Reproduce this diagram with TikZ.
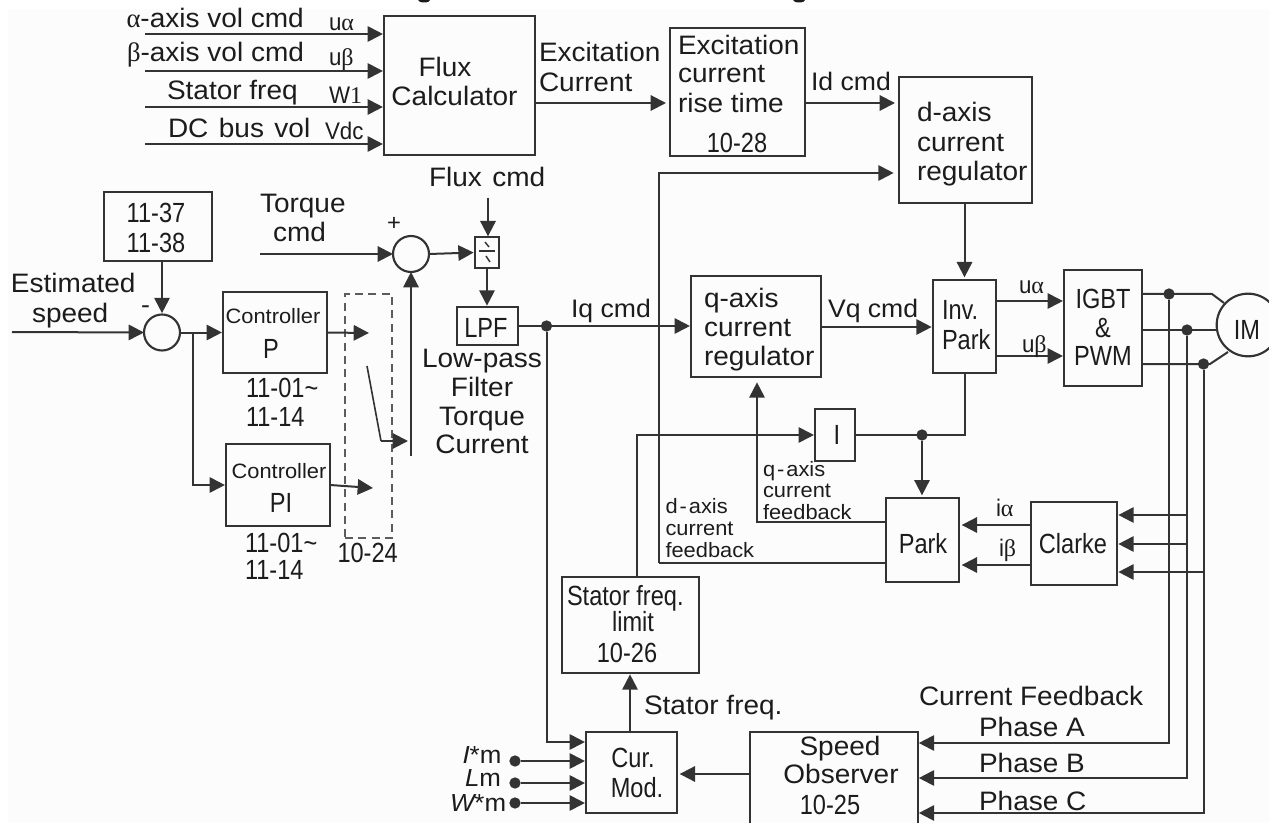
\documentclass[tikz,border=0pt]{standalone}
\usepackage{fontspec}
\setmainfont{Liberation Sans}[FakeStretch=1.05]
\newfontfamily\nar{Liberation Sans}[FakeStretch=0.85]
\newfontfamily\unar{Liberation Sans}[FakeStretch=0.93]
\newfontfamily\sym{Liberation Serif}
\usetikzlibrary{arrows.meta}
\definecolor{ink}{HTML}{333333}
\definecolor{tink}{HTML}{1C1C1C}
\definecolor{paper}{HTML}{FCFCFC}
\tikzset{
  bx/.style 2 args={draw=ink,line width=1.6pt,inner sep=0pt,outer sep=0pt,anchor=north west,
    minimum width=#1*0.75pt,minimum height=#2*0.75pt},
  wire/.style={draw=ink,line width=1.5pt},
  arr/.style={wire,-{Triangle[length=11.5pt,width=11.5pt]},shorten >=0.8pt},
  tl/.style={inner sep=0pt,outer sep=0pt,anchor=base west,text=tink,font=\fontsize{20}{24}\selectfont},
  tc/.style={tl,anchor=base},
  sl/.style={tl,font=\fontsize{15.6}{20}\selectfont},
  sc/.style={sl,anchor=base},
  nl/.style={tl,font=\fontsize{20.8}{24}\selectfont\nar},
  nc/.style={nl,anchor=base},
  ul/.style={tl,font=\fontsize{18}{22}\selectfont\unar},
  ml/.style={tl,font=\fontsize{18.5}{22}\selectfont},
  dot/.style={circle,fill=ink,draw=none,minimum size=8.5pt,inner sep=0pt,outer sep=0pt},
  sumc/.style={circle,draw=ink,line width=1.6pt,minimum size=27pt,inner sep=0pt,outer sep=0pt,fill=paper},
}
\begin{document}
\begin{tikzpicture}[x=0.75pt,y=-0.75pt]
\useasboundingbox (0,0) rectangle (1269,823);
\fill[white] (0,0) rectangle (1269,823);
\fill[paper] (8,9) rectangle (1269,823);
% cut-off remains of a title at the top edge
\fill[tink] (424,0) ellipse [x radius=6,y radius=2.5];
\fill[tink] (799,0) ellipse [x radius=6,y radius=2.5];

% ---------- boxes
\node[bx={151}{139}] (flux) at (384,16) {};
\node[bx={135}{128}] (rise) at (670,28) {};
\node[bx={133}{126}] (dreg) at (899,77) {};
\node[bx={108}{69}] (lim) at (104,192) {};
\node[bx={104}{81}] (ctlp) at (223,292) {};
\node[bx={104}{82}] (ctlpi) at (226,444) {};
\node[bx={24}{31}] (div) at (475,237) {};
\node[bx={61}{38}] (lpf) at (457,307) {};
\node[bx={130}{101}] (qreg) at (691,276) {};
\node[bx={63}{93}] (inv) at (933,280) {};
\node[bx={78}{116}] (igbt) at (1064,270) {};
\node[bx={40}{52}] (ibox) at (815,409) {};
\node[bx={73}{84}] (park) at (886,498) {};
\node[bx={86}{83}] (clarke) at (1031,502) {};
\node[bx={137}{96}] (sfl) at (562,577) {};
\node[bx={91}{81}] (cur) at (586,732) {};
\node[sumc] (sum1) at (162,332.5) {};
\node[sumc] (sum2) at (411,254) {};
\node[circle,draw=ink,line width=1.6pt,minimum size=47pt,inner sep=0pt,outer sep=0pt] (im) at (1248,325) {};
% speed observer runs off the bottom edge of the picture
\coordinate (obsNW) at (750,732);
\coordinate (obsNE) at (918,732);
\coordinate (obsSW) at (750,823);
\coordinate (obsSE) at (918,823);
\draw[wire,line width=1.6pt] (obsSW) -- (obsNW) -- (obsNE) -- (obsSE);
% dashed selector
\node[bx={47}{244},draw=ink!80,dash pattern=on 6pt off 4pt,line width=1pt] (sel) at (345,294) {};

% ---------- free ends
\coordinate (a1) at (145,34);
\coordinate (a2) at (145,71);
\coordinate (a3) at (145,107);
\coordinate (a4) at (145,144);
\coordinate (es) at (12,332);
\coordinate (tq) at (260,254);
\coordinate (fc) at (488,198);
\coordinate (pt) at (369,333);
\coordinate (pit) at (373,488);
\coordinate (swa) at (367,366);
\coordinate (swb) at (381,441);
\coordinate (swc) at (408,441);
\coordinate (tail) at (411,456);
\coordinate (br) at (193,333);
\coordinate (j) at (659,173);
\coordinate (dj) at (659,563);
\coordinate (qj) at (757,522);
\coordinate (ij) at (636.5,435);
\coordinate (t1a) at (1212,294);
\coordinate (t1b) at (1224,303);
\coordinate (t3a) at (1210,364);
\coordinate (t3b) at (1228,352);

% ---------- dots
\node[dot] (d1) at (1169,294) {};
\node[dot] (d2) at (1187,330) {};
\node[dot] (d3) at (1203.5,364) {};
\node[dot] (dq) at (546.5,326) {};
\node[dot] (dp) at (922,435) {};
\node[dot] (m1) at (515,761) {};
\node[dot] (m2) at (515,783) {};
\node[dot] (m3) at (515,803) {};

% ---------- connectors
\draw[arr] (a1) -- (flux.west |- a1);
\draw[arr] (a2) -- (flux.west |- a2);
\draw[arr] (a3) -- (flux.west |- a3);
\draw[arr] (a4) -- (flux.west |- a4);
\draw[arr,shorten >=3pt] (flux.east |- 0,103) -- (rise.west |- 0,103);
\draw[arr,shorten >=3pt] (rise.east |- 0,103) -- (dreg.west |- 0,103);
\draw[arr,shorten >=4pt] (dj) -- (j) -- (dreg.west |- j);
\draw[wire] (dj) -- (park.west |- dj);
\draw[arr,shorten >=2pt] (dreg.south -| inv.north) -- (inv.north);
\draw[arr,shorten >=1pt] (lim.south -| sum1) -- (sum1.north);
\draw[arr,shorten >=0pt] (es) -- (sum1.west);
\draw[arr] (sum1.east |- ctlp.west) -- (ctlp.west);
\draw[arr] (br) |- (ctlpi.west);
\draw[arr,shorten >=0pt] (ctlp.east) -- (pt);
\draw[arr,shorten >=0pt] (ctlpi.east) -- (pit);
\draw[wire,line width=1.2pt] (swa) -- (swb);
\draw[arr,shorten >=0pt] (swb) -- (swc);
\draw[arr,shorten >=0pt] (tail) -- (sum2.south);
\draw[arr,shorten >=0pt] (tq) -- (sum2.west);
\draw[arr,shorten >=1pt] (sum2.east) -- (div.west);
\draw[arr,shorten >=0.5pt] (fc) -- (div.north -| fc);
\draw[arr,shorten >=1pt] (div.south) -- (lpf.north -| div.south);
\draw[wire,line width=1.1pt] (479,251) -- (495,251);
\draw[wire,line width=1.1pt] (485,242) -- (489,247);
\draw[wire,line width=1.1pt] (486,256) -- (490,262);
\draw[arr] (lpf.east |- dq) -- (qreg.west |- dq);
\draw[arr,shorten >=1pt] (qreg.east |- 0,327) -- (inv.west |- 0,327);
\draw[arr] (inv.east |- 0,301) -- (igbt.west |- 0,301);
\draw[arr] (inv.east |- 0,356) -- (igbt.west |- 0,356);
\draw[wire] (igbt.east |- t1a) -- (t1a) -- (t1b);
\draw[wire] (igbt.east |- d2) -- (im.west |- d2);
\draw[wire] (igbt.east |- t3a) -- (t3a) -- (t3b);
\draw[arr] (sfl.north -| ij) -- (ij) -- (ibox.west |- ij);
\draw[wire] (ibox.east |- dp) -- (inv.south |- dp) -- (inv.south);
\draw[arr,shorten >=2pt] (dp) -- (park.north -| dp);
\draw[arr,shorten >=4pt] (park.west |- qj) -- (qj) -- (qreg.south -| qj);
\draw[arr,shorten >=2pt] (clarke.west |- 0,525) -- (park.east |- 0,525);
\draw[arr,shorten >=2pt] (clarke.west |- 0,565) -- (park.east |- 0,565);
\draw[arr,shorten >=1pt] (d2 |- 0,515) -- (clarke.east |- 0,515);
\draw[arr,shorten >=1pt] (d2 |- 0,544) -- (clarke.east |- 0,544);
\draw[arr,shorten >=1pt] (d3 |- 0,572) -- (clarke.east |- 0,572);
\draw[arr,shorten >=0.6pt] (d1) |- (obsNE |- 0,743);
\draw[arr,shorten >=0.6pt] (d2) |- (obsNE |- 0,778);
\draw[arr,shorten >=0.6pt] (d3) |- (obsNE |- 0,813);
\draw[arr,shorten >=1pt] (cur.north -| 630,0) -- (sfl.south -| 630,0);
\draw[arr,shorten >=2pt] (obsNW |- 0,774) -- (cur.east |- 0,774);
\draw[arr] (dq) |- (cur.west |- 0,742);
\draw[arr] (m1) -- (cur.west |- m1);
\draw[arr] (m2) -- (cur.west |- m2);
\draw[arr] (m3) -- (cur.west |- m3);

% ---------- text
\node[tl] (t1) at (126.5,28) {{\sym α}-axis vol cmd};
\node[tl] (t2) at (127,62) {{\sym β}-axis vol cmd};
\node[tl] (t3) at (167,100) {Stator freq};
\node[tl] (t4) at (168,138) {DC\hspace{2pt} bus\hspace{2pt} vol};
\node[ul] (u1) at (329,31) {u{\sym α}};
\node[ul] (u2) at (329,66) {u{\sym β}};
\node[ul] (u3) at (329,104) {W{\sym 1}};
\node[ul] (u4) at (325,140) {Vdc};
\node[tc] (t5) at (445,77) {Flux};
\node[tc] (t6) at (454.5,106) {Calculator};
\node[tl] (t7) at (539,62) {Excitation};
\node[tl] (t8) at (539,92) {Current};
\node[tl] (t9) at (678,55) {Excitation};
\node[tl] (t10) at (678,83) {current};
\node[tl] (t11) at (678,113) {rise time};
\node[nc] (t12) at (737,153) {10-28};
\node[tl,font=\fontsize{19}{24}\selectfont] (t13) at (811,91) {Id cmd};
\node[tl] (t14) at (917,122) {d-axis};
\node[tl] (t15) at (917,152) {current};
\node[tl] (t16) at (917,181) {regulator};
\node[tl] (t17) at (429,187) {Flux\hspace{2pt} cmd};
\node[nc] (t18) at (156,223) {11-37};
\node[nc] (t19) at (156,253) {11-38};
\node[tl] (t20) at (11,293) {Estimated};
\node[tl] (t21) at (32,322) {speed};
\node[sl,font=\fontsize{19}{20}\selectfont] (t22) at (141,313) {-};
\node[sl,font=\fontsize{17}{20}\selectfont] (t25) at (387,231) {+};
\node[tl] (t23) at (260,213) {Torque};
\node[tl] (t24) at (273,242) {cmd};
\node[sc] (t26) at (273,324) {Controller};
\node[nc] (t27) at (271,358) {P};
\node[sc] (t28) at (279,478) {Controller};
\node[nc] (t29) at (281,512) {PI};
\node[nl] (t30) at (246,397) {11-01\char`\~};
\node[nl] (t31) at (246,426) {11-14};
\node[nl] (t32) at (245,552) {11-01\char`\~};
\node[nl] (t33) at (245,579) {11-14};
\node[nl] (t34) at (337.5,562) {10-24};
\node[nc] (t35) at (486,337) {LPF};
\node[tc] (t36) at (482,367) {Low-pass};
\node[tc] (t37) at (482,396) {Filter};
\node[tc] (t38) at (482,425) {Torque};
\node[tc] (t39) at (482,453) {Current};
\node[tl,font=\fontsize{19}{24}\selectfont] (t40) at (571,317) {Iq cmd};
\node[tl] (t41) at (704,307) {q-axis};
\node[tl] (t42) at (704,336) {current};
\node[tl] (t43) at (704,365) {regulator};
\node[tl,font=\fontsize{19}{24}\selectfont] (t44) at (828,317) {Vq cmd};
\node[nl] (t45) at (942,320) {Inv.};
\node[nl] (t46) at (942,349) {Park};
\node[ul] (t47) at (1019,294) {u{\sym α}};
\node[ul] (t48) at (1022,352) {u{\sym β}};
\node[nc] (t49) at (1103,308) {IGBT};
\node[nc] (t50) at (1103,337) {\&};
\node[nc] (t51) at (1103,365) {PWM};
\node[nc] (t52) at (1247,339) {IM};
\node[nc] (t53) at (837,444) {I};
\node[sl] (t54) at (763,476) {q\hspace{1.5pt}-\hspace{1.5pt}axis};
\node[sl] (t55) at (763,497) {current};
\node[sl] (t56) at (763,519) {feedback};
\node[sl] (t57) at (665.5,513) {d\hspace{1.5pt}-\hspace{1.5pt}axis};
\node[sl] (t58) at (665.5,535) {current};
\node[sl] (t59) at (665.5,557) {feedback};
\node[nc] (t60) at (923,553) {Park};
\node[nc] (t61) at (1073,553) {Clarke};
\node[ul] (t62) at (996,516) {i{\sym α}};
\node[ul] (t63) at (999,556) {i{\sym β}};
\node[nl] (t64) at (567,605) {Stator freq.};
\node[nc] (t65) at (633,631) {limit};
\node[nc] (t66) at (627,662) {10-26};
\node[tl] (t67) at (644,714) {Stator freq.};
\node[tl] (t68) at (919,705) {Current Feedback};
\node[tl] (t69) at (979,736) {Phase A};
\node[tl] (t70) at (979,772) {Phase B};
\node[tl] (t71) at (979,810) {Phase C};
\node[tc] (t72) at (840,755) {Speed};
\node[tc] (t73) at (841,783) {Observer};
\node[nc] (t74) at (830,814) {10-25};
\node[nc] (t75) at (633,767) {Cur.};
\node[nc] (t76) at (637,797) {Mod.};
\node[ml] (t77) at (462.5,763) {\itshape I\upshape *m};
\node[ml] (t78) at (465,786) {\itshape L\upshape m};
\node[ml] (t79) at (450,811) {\itshape W\upshape *m};
\end{tikzpicture}
\end{document}
